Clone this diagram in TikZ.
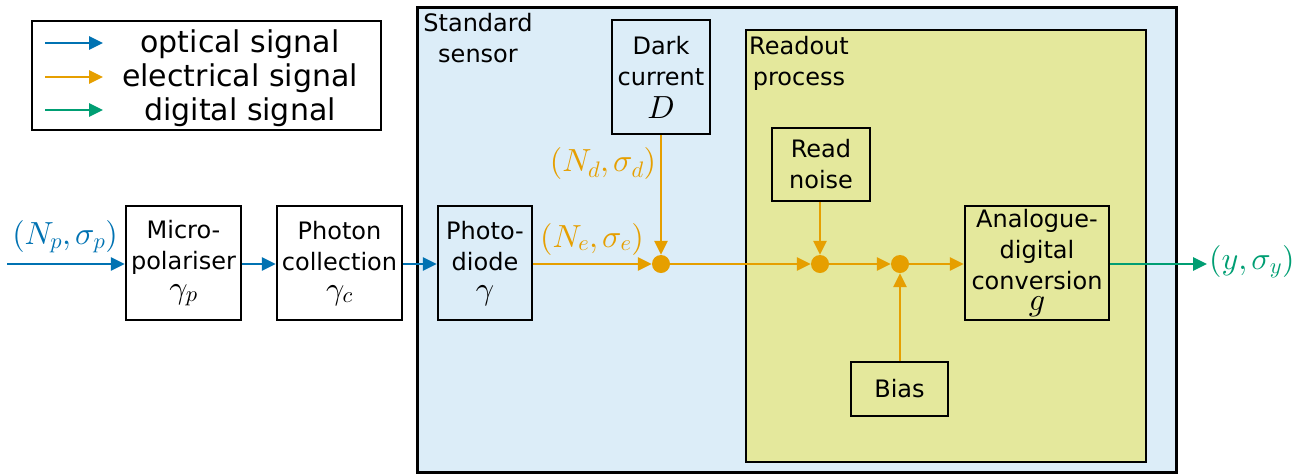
\documentclass[tikz,border=0pt]{standalone}
\usepackage{fontspec}
\usetikzlibrary{arrows.meta}
\newfontfamily\labelfont{DejaVu Sans}
% scalable math fonts
\DeclareFontFamily{OML}{cmm}{\skewchar\font'177}
\DeclareFontShape{OML}{cmm}{m}{it}{<->cmmi10}{}
\DeclareFontShape{OML}{cmm}{b}{it}{<->cmmib10}{}
\DeclareFontFamily{OT1}{cmr}{\hyphenchar\font45}
\DeclareFontShape{OT1}{cmr}{m}{n}{<->cmr10}{}
\DeclareFontShape{OT1}{cmr}{bx}{n}{<->cmbx10}{}

\definecolor{optblue}{HTML}{0072B2}
\definecolor{elecorange}{HTML}{E69F00}
\definecolor{digigreen}{HTML}{009E73}
\definecolor{sensorfill}{HTML}{DCEDF8}
\definecolor{readoutfill}{HTML}{E4E89C}

\newcommand{\boxtext}{\labelfont\fontsize{24}{31}\selectfont}
\newcommand{\legendtext}{\labelfont\fontsize{30}{34}\selectfont}
\newcommand{\mathsz}{\fontsize{32}{34}\selectfont}

\tikzset{
  blk/.style={draw=black, line width=2.2pt, inner sep=0pt, align=center,
              font=\boxtext},
  sig/.style={line width=2.7pt, -{Triangle[length=14pt,width=13pt]}},
  opt/.style={sig, draw=optblue},
  elec/.style={sig, draw=elecorange},
  digi/.style={sig, draw=digigreen},
  junction/.style={circle, fill=elecorange, minimum size=18pt, inner sep=0pt},
  mlabel/.style={font=\mathsz, inner sep=0pt},
}

\begin{document}
\begin{tikzpicture}[x=1pt, y=-1pt]
  \useasboundingbox (0,0) rectangle (1305,475);

  % legend
  \node[draw=black, line width=2.2pt, minimum width=349pt, minimum height=109pt,
        inner sep=0pt] (legend) at (206.5,75.5) {};
  \coordinate (lo1) at (45,43);  \coordinate (lo2) at (103,43);
  \coordinate (le1) at (45,77);  \coordinate (le2) at (103,77);
  \coordinate (ld1) at (45,110); \coordinate (ld2) at (103,110);
  \draw[opt]  (lo1) -- (lo2);
  \draw[elec] (le1) -- (le2);
  \draw[digi] (ld1) -- (ld2);
  \node[font=\legendtext, anchor=base] (lgo) at (240,52) {optical signal};
  \node[font=\legendtext, anchor=base] (lge) at (240,86) {electrical signal};
  \node[font=\legendtext, anchor=base] (lgd) at (240,120) {digital signal};

  % enclosing regions
  \node[draw=black, line width=3pt, fill=sensorfill, minimum width=759pt,
        minimum height=465pt, inner sep=0pt] (sensor) at (796.5,239.5) {};
  \node[font=\boxtext, align=center] (sensorlbl) at (478,38) {Standard\\sensor};
  \node[draw=black, line width=1.8pt, fill=readoutfill, minimum width=400pt,
        minimum height=432pt, inner sep=0pt] (readout) at (946,246) {};
  \node[font=\boxtext, align=center] (readoutlbl) at (799,63) {Readout\\process};

  % blocks
  \node[blk, minimum width=115pt, minimum height=114pt] (micro) at (183.5,263)
    {Micro-\\polariser\\[-2pt]{\mathsz$\gamma_p$}};
  \node[blk, minimum width=125pt, minimum height=114pt] (collect) at (339.5,263)
    {Photon\\collection\\[-2pt]{\mathsz$\gamma_c$}};
  \node[blk, minimum width=94pt, minimum height=114pt] (diode) at (485,263)
    {Photo-\\diode\\[-2pt]{\mathsz$\gamma$}};
  \node[blk, minimum width=98pt, minimum height=114pt] (dark) at (661,77)
    {Dark\\current\\[2pt]{\mathsz$D$}};
  \node[blk, minimum width=98pt, minimum height=73pt] (rnoise) at (821,164.5)
    {Read\\noise};
  \node[blk, minimum width=144pt, minimum height=114pt] (adc) at (1037,263)
    {Analogue-\\digital\\conversion\\[-10pt]{\mathsz$g$}};
  \node[blk, minimum width=97pt, minimum height=54pt] (bias) at (899.5,389)
    {Bias};

  % summing junctions
  \node[junction] (j1) at (661,264) {};
  \node[junction] (j2) at (820,264) {};
  \node[junction] (j3) at (900,264) {};

  % optical path
  \coordinate (in) at (7,264);
  \draw[opt] (in) -- (micro.west |- in);
  \draw[opt] (micro.east |- in) -- (collect.west |- in);
  \draw[opt] (collect.east |- in) -- (diode.west |- in);

  % electrical path
  \draw[elec] (diode.east |- j1) -- (j1);
  \draw[elec] (dark.south) -- (j1);
  \draw[elec] (j1) -- (j2);
  \draw[elec] (rnoise.south -| j2) -- (j2);
  \draw[elec] (j2) -- (j3);
  \draw[elec] (bias.north -| j3) -- (j3);
  \draw[elec] (j3) -- (adc.west |- j3);

  % digital output
  \coordinate (out) at (1207,264);
  \draw[digi] (adc.east |- out) -- (out);

  % signal labels
  \node[mlabel, text=optblue] (lp) at (65,237) {$(N_p,\sigma_p)$};
  \node[mlabel, text=elecorange] (le) at (592,239) {$(N_e,\sigma_e)$};
  \node[mlabel, text=elecorange] (ld) at (603,163) {$(N_d,\sigma_d)$};
  \node[mlabel, text=digigreen, anchor=west] (ly) at (1209,262) {$(y,\sigma_y)$};
\end{tikzpicture}
\end{document}
